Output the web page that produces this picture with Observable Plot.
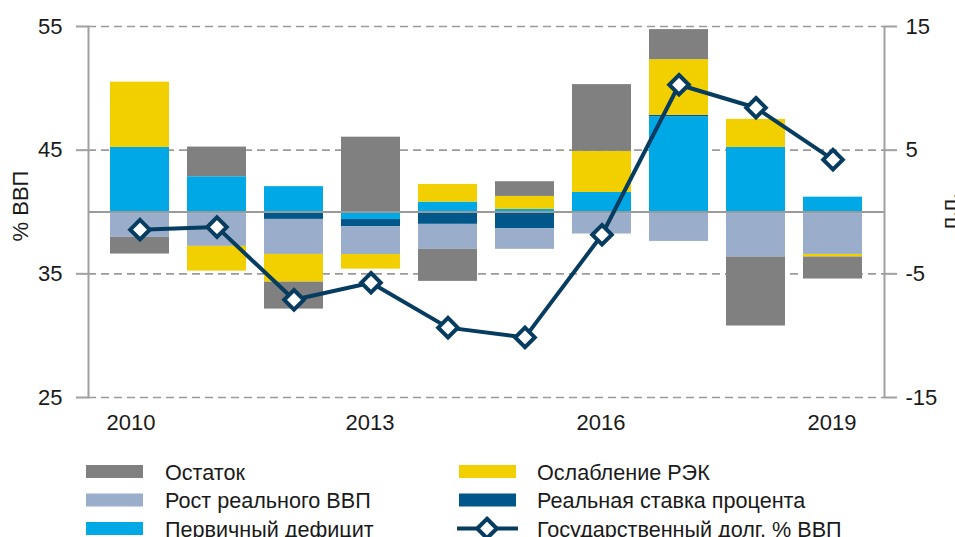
<!DOCTYPE html>
<html>
<head>
<meta charset="utf-8">
<script src="https://cdn.jsdelivr.net/npm/d3@7"></script>
<script src="https://cdn.jsdelivr.net/npm/@observablehq/plot@0.6"></script>
<style>
  html, body { margin: 0; padding: 0; background: #fff; overflow: hidden; }
  #wrap { position: relative; width: 955px; height: 537px; overflow: hidden; }
  #chart svg, #legend svg { display: block; }
</style>
</head>
<body>
<div id="wrap">
  <div id="chart"></div>
  <div id="legend"></div>
</div>
<script>
// ---------- DATA ----------
const years = [2010, 2011, 2012, 2013, 2014, 2015, 2016, 2017, 2018, 2019];

// stacking order (from zero outward)
const seriesNames = [
  "Первичный дефицит",
  "Реальная ставка процента",
  "Рост реального ВВП",
  "Ослабление РЭК",
  "Остаток"
];
const seriesColors = ["#00a9e6", "#00578a", "#9aaecb", "#f2d000", "#808080"];

// contributions, п.п.
const primaryDeficit = [5.22, 2.85, 2.05, -0.6, 0.8, 0.21, 1.58, 7.7, 5.22, 1.2];
const realRate       = [-0.15, -0.15, -0.6, -0.6, -1.0, -1.36, -0.15, 0.12, -0.15, -0.15];
const realGdpGrowth  = [-1.9, -2.63, -2.83, -2.24, -2.02, -1.66, -1.63, -2.38, -3.49, -3.28];
const recWeakening   = [5.28, -2.0, -2.24, -1.18, 1.43, 1.05, 3.32, 4.5, 2.27, -0.21];
const residual       = [-1.35, 2.4, -2.18, 6.05, -2.59, 1.19, 5.4, 2.43, -5.58, -1.78];
const seriesValues = [primaryDeficit, realRate, realGdpGrowth, recWeakening, residual];

// government debt, % ВВП
const debtName = "Государственный долг, % ВВП";
const debt = [38.57, 38.78, 32.9, 34.28, 30.65, 29.86, 38.16, 50.29, 48.43, 44.23];
const debtColor = "#063c5f";

// axes
const ppTicks = [-15, -5, 5, 15];      // right axis, п.п.
const debtZero = 40;                    // % ВВП level that corresponds to 0 п.п.
const xTickFirst = [2010];
const xTickRest = [2013, 2016, 2019];
const leftLabel = "% ВВП";
const rightLabel = "п.п.";

// legend layout (two columns)
const legendCol1 = ["Остаток", "Рост реального ВВП", "Первичный дефицит"];
const legendCol2 = ["Ослабление РЭК", "Реальная ставка процента", debtName];

// ---------- TABLES ----------
const bars = years.flatMap((year, i) =>
  seriesNames.map((s, k) => ({ year, series: s, value: seriesValues[k][i] }))
);
const debtRows = years.map((year, i) => ({ year, debt: debt[i] }));

const font = "'Liberation Sans', Arial, Helvetica, sans-serif";
const axisGray = "#a0a0a0";
const textColor = "#1a1a1a";

const chart = Plot.plot({
  width: 955,
  height: 445,
  marginTop: 26,
  marginBottom: 48,
  marginLeft: 88,
  marginRight: 71,
  style: { fontFamily: font, fontSize: "22px", color: textColor, background: "white", overflow: "visible" },
  x: { type: "band", domain: years, paddingInner: 0.237, paddingOuter: 0.26, axis: null },
  y: { domain: [-15, 15], axis: null },
  color: { domain: seriesNames, range: seriesColors },
  marks: [
    Plot.gridY(ppTicks, { stroke: "#9a9a9a", strokeOpacity: 1, strokeWidth: 1.6, strokeDasharray: "8,5" }),
    Plot.barY(bars, Plot.stackY({ x: "year", y: "value", fill: "series", order: null })),
    Plot.ruleY([0], { stroke: "#9a9a9a", strokeWidth: 2 }),
    Plot.frame({ anchor: "left", stroke: axisGray, strokeWidth: 2 }),
    Plot.frame({ anchor: "right", stroke: axisGray, strokeWidth: 2 }),
    Plot.axisY(ppTicks, {
      anchor: "left", tickSize: 12, tickPadding: 14, stroke: axisGray, strokeWidth: 2,
      fill: textColor, tickFormat: d => String(d + debtZero), label: null, fontSize: 22
    }),
    Plot.axisY(ppTicks, {
      anchor: "right", tickSize: 12, tickPadding: 9, stroke: axisGray, strokeWidth: 2,
      fill: textColor, tickFormat: d => String(d), label: null, fontSize: 22
    }),
    Plot.axisX(xTickFirst, {
      anchor: "bottom", tickSize: 0, tickPadding: 17, fill: textColor, dx: -9,
      tickFormat: d => String(d), label: null, fontSize: 22
    }),
    Plot.axisX(xTickRest, {
      anchor: "bottom", tickSize: 0, tickPadding: 17, fill: textColor, dx: -1,
      tickFormat: d => String(d), label: null, fontSize: 22
    }),
    Plot.line(debtRows, { x: "year", y: d => d.debt - debtZero, stroke: debtColor, strokeWidth: 4 }),
    Plot.dot(debtRows, {
      x: "year", y: d => d.debt - debtZero, symbol: "diamond2", r: 8.8,
      fill: "white", stroke: debtColor, strokeWidth: 4
    }),
    Plot.text([leftLabel], {
      frameAnchor: "left", textAnchor: "middle", dx: -68, dy: -6, rotate: -90, fontSize: 22, fill: textColor
    }),
    Plot.text([rightLabel], {
      frameAnchor: "right", textAnchor: "middle", dx: 65, dy: -1, rotate: -90, fontSize: 22, fill: textColor
    })
  ]
});
document.getElementById("chart").appendChild(chart);

// ---------- LEGEND ----------
const colorOf = Object.fromEntries(seriesNames.map((s, k) => [s, seriesColors[k]]));
const lg = d3.select("#legend").append("svg")
  .attr("width", 955).attr("height", 92)
  .style("font-family", font).style("font-size", "21.6px");
const rowY = [26.5, 55, 83.5];
function addItem(name, col, row) {
  const sx = col === 0 ? 86 : 459;
  const tx = col === 0 ? 165 : 537;
  const cy = rowY[row];
  if (name === debtName) {
    lg.append("line").attr("x1", sx - 2).attr("x2", sx + 59).attr("y1", cy).attr("y2", cy)
      .attr("stroke", debtColor).attr("stroke-width", 4);
    lg.append("path").attr("d", d3.symbol(d3.symbolDiamond2, Math.PI * 8.8 * 8.8)())
      .attr("transform", `translate(${sx + 28},${cy})`)
      .attr("fill", "white").attr("stroke", debtColor).attr("stroke-width", 4);
  } else {
    lg.append("rect").attr("x", sx).attr("y", cy - 6.5).attr("width", 57).attr("height", 13)
      .attr("fill", colorOf[name]);
  }
  lg.append("text").attr("x", tx).attr("y", cy + 8).attr("fill", textColor).text(name);
}
legendCol1.forEach((n, r) => addItem(n, 0, r));
legendCol2.forEach((n, r) => addItem(n, 1, r));
</script>
</body>
</html>
